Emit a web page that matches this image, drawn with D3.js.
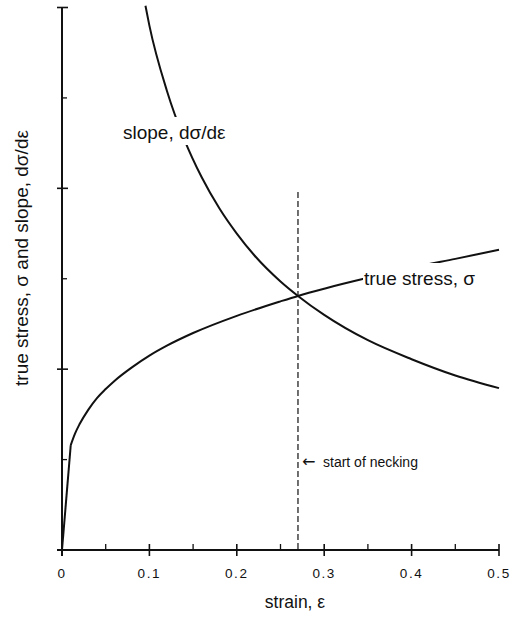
<!DOCTYPE html>
<html><head><meta charset="utf-8">
<script src="https://cdn.jsdelivr.net/npm/d3@7"></script>
<style>
html,body{margin:0;padding:0;background:#fff;}
text{font-family:"Liberation Sans",Arial,Helvetica,sans-serif;fill:#111;}
</style></head>
<body>
<svg id="chart" width="519" height="619"></svg>
<script>
// ---- data ----
const elasticStrain = [0, 0.01];
const elasticStress = [0, 1.16];
const plasticStrain = [0.01, 0.015, 0.02, 0.03, 0.04, 0.05, 0.06, 0.08, 0.10, 0.12, 0.15, 0.20, 0.25, 0.27, 0.30, 0.35, 0.40, 0.45, 0.50];
const plasticStress = [1.16, 1.29, 1.39, 1.55, 1.68, 1.78, 1.87, 2.02, 2.15, 2.26, 2.40, 2.59, 2.75, 2.81, 2.89, 3.01, 3.12, 3.22, 3.32];
const slopeStrain = [0.0955, 0.10, 0.12, 0.14, 0.16, 0.18, 0.20, 0.22, 0.25, 0.27, 0.30, 0.35, 0.40, 0.45, 0.50];
const slopeValue  = [6.02, 5.80, 5.08, 4.54, 4.12, 3.78, 3.50, 3.26, 2.97, 2.81, 2.60, 2.32, 2.11, 1.93, 1.79];
const neckingStrain = 0.27;
const xMajorTicks = [0, 0.1, 0.2, 0.3, 0.4, 0.5];
const xTickLabels = ["0", "0.1", "0.2", "0.3", "0.4", "0.5"];
const xMinorTicks = [0.05, 0.15, 0.25, 0.35, 0.45];
const yMajorTicks = [0, 2, 4, 6];
const yMinorTicks = [1, 3, 5];

const svg = d3.select("#chart");
const x = d3.scaleLinear().domain([0, 0.5]).range([62, 499]);
const y = d3.scaleLinear().domain([0, 6]).range([550, 7.5]);

const ink = "#111";
// axes
const ax = svg.append("g").attr("stroke", ink).attr("stroke-width", 2).attr("fill", "none");
ax.append("line").attr("x1", x(0) - 5).attr("x2", x(0.5)).attr("y1", y(0)).attr("y2", y(0));
ax.append("line").attr("x1", x(0)).attr("x2", x(0)).attr("y1", y(6)).attr("y2", y(0) + 6);
ax.selectAll(".xmaj").data(xMajorTicks).join("line")
  .attr("x1", d => x(d)).attr("x2", d => x(d)).attr("y1", y(0) - 6).attr("y2", y(0) + 6).attr("stroke-width", 1.6);
ax.selectAll(".xmin").data(xMinorTicks).join("line")
  .attr("x1", d => x(d)).attr("x2", d => x(d)).attr("y1", y(0) - 6).attr("y2", y(0)).attr("stroke-width", 1.3);
ax.selectAll(".ymaj").data(yMajorTicks).join("line")
  .attr("y1", d => y(d)).attr("y2", d => y(d)).attr("x1", x(0) - 5).attr("x2", x(0) + 6).attr("stroke-width", 1.6);
ax.selectAll(".ymin").data(yMinorTicks).join("line")
  .attr("y1", d => y(d)).attr("y2", d => y(d)).attr("x1", x(0)).attr("x2", x(0) + 5).attr("stroke-width", 1.3);

svg.selectAll(".xl").data(xMajorTicks).join("text")
  .attr("x", d => x(d)).attr("y", 578).attr("text-anchor", "middle")
  .attr("font-size", 13.5).attr("letter-spacing", 1.6)
  .text((d, i) => xTickLabels[i]);

svg.append("text").attr("x", 295).attr("y", 608).attr("text-anchor", "middle")
  .attr("font-size", 17.5).text("strain, ε");
svg.append("text").attr("transform", "translate(28,258) rotate(-90)").attr("text-anchor", "middle")
  .attr("font-size", 19).text("true stress, σ and slope, dσ/dε");

// necking line
svg.append("line").attr("x1", x(neckingStrain)).attr("x2", x(neckingStrain))
  .attr("y1", 192).attr("y2", y(0)).attr("stroke", ink).attr("stroke-width", 1.2)
  .attr("stroke-dasharray", "6,3");

// curves
const lineLin = d3.line().x(d => x(d[0])).y(d => y(d[1]));
const lineSmooth = d3.line().x(d => x(d[0])).y(d => y(d[1])).curve(d3.curveMonotoneX);
const curves = svg.append("g").attr("fill", "none").attr("stroke", ink).attr("stroke-width", 2);
curves.append("path").attr("d", lineLin(elasticStrain.map((e, i) => [e, elasticStress[i]])));
curves.append("path").attr("d", lineSmooth(plasticStrain.map((e, i) => [e, plasticStress[i]])));
curves.append("path").attr("d", lineSmooth(slopeStrain.map((e, i) => [e, slopeValue[i]])));

// labels with white backing
function label(tx, ty, str, size, padTop, padBot, padL, padR) {
  const g = svg.append("g");
  const r = g.append("rect").attr("fill", "#fff");
  const t = g.append("text").attr("x", tx).attr("y", ty).attr("font-size", size).text(str);
  const b = t.node().getBBox();
  r.attr("x", b.x - padL).attr("y", b.y - padTop).attr("width", b.width + padL + padR).attr("height", b.height + padTop + padBot);
}
label(123, 139, "slope, dσ/dε", 19, 5, 2, 3, 3);
label(364, 285, "true stress, σ", 19, 5, 2, 1, 3);
svg.append("text").attr("x", 302).attr("y", 467).attr("font-size", 16)
  .style("font-family", "'DejaVu Sans', sans-serif").text("←");
svg.append("text").attr("x", 323).attr("y", 467).attr("font-size", 14).text("start of necking");
</script>
</body></html>
